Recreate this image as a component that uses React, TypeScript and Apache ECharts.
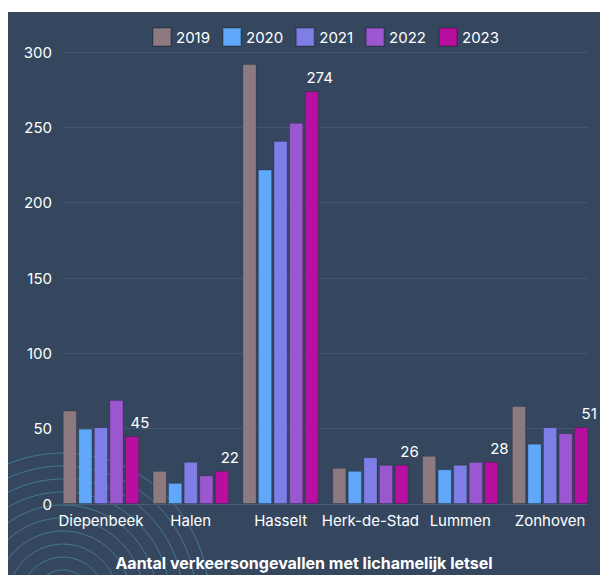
import React, { useEffect, useRef } from "react";
import * as echarts from "echarts";

const categories = ["Diepenbeek", "Halen", "Hasselt", "Herk-de-Stad", "Lummen", "Zonhoven"];
const years = ["2019", "2020", "2021", "2022", "2023"];
const v2019 = [62, 22, 292, 24, 32, 65];
const v2020 = [50, 14, 222, 22, 23, 40];
const v2021 = [51, 28, 241, 31, 26, 51];
const v2022 = [69, 19, 253, 26, 28, 47];
const v2023 = [45, 22, 274, 26, 28, 51];
const colors = ["#8c7a80", "#61a8fa", "#7f7ee6", "#9b57cf", "#b80fa0"];
const yTicks = [0, 50, 100, 150, 200, 250, 300];
const titleText = "Aantal verkeersongevallen met lichamelijk letsel";

const FONT = "Inter, 'Noto Sans', sans-serif";

export default function App() {
  const ref = useRef<HTMLDivElement>(null);
  useEffect(() => {
    if (!ref.current) return;
    const chart = echarts.init(ref.current, null, { renderer: "svg" });
    const data = [v2019, v2020, v2021, v2022, v2023];
    const arcs: any[] = [];
    for (let r = 146; r >= 28; r -= 13) {
      arcs.push({
        type: "circle",
        z: -10,
        silent: true,
        shape: { cx: 55, cy: 587, r },
        style: { fill: "none", stroke: "rgba(80,160,185,0.55)", lineWidth: 1 },
      });
    }
    const yMin = yTicks[0];
    const yMax = yTicks[yTicks.length - 1];
    chart.setOption({
      animation: false,
      backgroundColor: "#34475f",
      textStyle: { fontFamily: FONT },
      graphic: arcs,
      title: {
        text: titleText,
        left: "center",
        top: 538,
        textStyle: { color: "#ffffff", fontSize: 16, fontWeight: "bold", fontFamily: FONT },
      },
      legend: {
        data: years,
        left: 139,
        top: 10,
        itemWidth: 18,
        itemHeight: 18,
        itemGap: 12,
        icon: "rect",
        textStyle: { color: "#ffffff", fontSize: 15, fontFamily: FONT },
      },
      grid: [
        { left: 48, right: 5, top: 40, bottom: 71, containLabel: false },
        { left: 55, right: 12, top: 40, bottom: 71, containLabel: false },
      ],
      xAxis: [
        {
          type: "category",
          gridIndex: 0,
          data: categories,
          axisLine: { show: false },
          axisTick: { show: false },
          axisLabel: { color: "#ffffff", fontSize: 15, margin: 9, fontFamily: FONT, interval: 0 },
        },
        {
          type: "category",
          gridIndex: 1,
          data: categories,
          axisLine: { show: true, lineStyle: { color: "#4b5c73", width: 1 } },
          axisTick: { show: false },
          axisLabel: { show: false },
        },
      ],
      yAxis: [
        {
          type: "value",
          gridIndex: 0,
          min: yMin,
          max: yMax,
          interval: 50,
          axisLine: { show: false },
          axisTick: { show: false },
          splitLine: { show: false },
          axisLabel: { color: "#ffffff", fontSize: 15, margin: 4, fontFamily: FONT },
        },
        {
          type: "value",
          gridIndex: 1,
          min: yMin,
          max: yMax,
          interval: 50,
          axisLine: { show: false },
          axisTick: { show: false },
          axisLabel: { show: false },
          splitLine: { lineStyle: { color: "#44566e", width: 1 } },
        },
      ],
      series: years.map((y, i) => ({
        name: y,
        type: "bar",
        xAxisIndex: 0,
        yAxisIndex: 0,
        data: data[i],
        barGap: "10%",
        barCategoryGap: "15%",
        itemStyle: { color: colors[i], borderColor: "rgba(0,0,0,0.18)", borderWidth: 1 },
        label:
          i === years.length - 1
            ? {
                show: true,
                position: "top",
                distance: 6,
                offset: [8, 0],
                color: "#ffffff",
                fontSize: 15,
                fontFamily: FONT,
              }
            : { show: false },
      })),
    });
    return () => chart.dispose();
  }, []);
  return (
    <div
      ref={ref}
      style={{ position: "absolute", left: 8, top: 12, width: 592, height: 563 }}
    />
  );
}
